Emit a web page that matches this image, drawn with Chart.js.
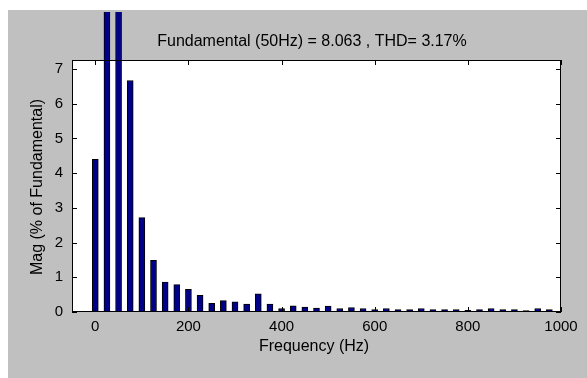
<!DOCTYPE html>
<html>
<head>
<meta charset="utf-8">
<script src="https://cdn.jsdelivr.net/npm/chart.js@4/dist/chart.umd.min.js"></script>
<style>
  html, body { margin: 0; padding: 0; background: #fff; }
  #wrap { position: absolute; left: 8px; top: 10px; width: 579px; height: 368px; background: #c0c0c0; }
</style>
</head>
<body>
<div id="wrap"><canvas id="fft"></canvas></div>
<script>
// harmonic spectrum, 25 Hz steps
const freqs = [0, 25, 50, 75, 100, 125, 150, 175, 200, 225, 250, 275, 300, 325, 350, 375, 400, 425, 450, 475,
  500, 525, 550, 575, 600, 625, 650, 675, 700, 725, 750, 775, 800, 825, 850, 875, 900, 925, 950, 975];
const mags = [4.4, 9.2, 100, 6.67, 2.72, 1.49, 0.86, 0.79, 0.65, 0.48, 0.25, 0.33, 0.29, 0.23, 0.52, 0.23, 0.10, 0.18, 0.14, 0.11,
  0.17, 0.10, 0.13, 0.10, 0.07, 0.10, 0.07, 0.07, 0.10, 0.07, 0.07, 0.07, 0.05, 0.07, 0.10, 0.07, 0.07, 0.04, 0.10, 0.07];
const xTicks = [0, 200, 400, 600, 800, 1000];
const yTicks = [0, 1, 2, 3, 4, 5, 6, 7];
const titleText = "Fundamental (50Hz) = 8.063 , THD= 3.17%";
const xLabel = "Frequency (Hz)";
const yLabel = "Mag (% of Fundamental)";

const family = "'Liberation Sans', Arial, sans-serif";
const labelFont = "16px " + family;

const matlabAxes = {
  id: "matlabAxes",
  beforeDraw(chart) {
    const { ctx, chartArea: a } = chart;
    ctx.save();
    ctx.fillStyle = "#fff";
    ctx.fillRect(a.left, a.top, a.right - a.left, a.bottom - a.top);
    ctx.restore();
  },
  afterDraw(chart) {
    const { ctx, chartArea: a, scales } = chart;
    ctx.save();
    ctx.strokeStyle = "#000";
    ctx.lineWidth = 1;
    ctx.strokeRect(a.left + 0.5, a.top + 0.5, a.right - a.left - 1, a.bottom - a.top - 1);
    ctx.beginPath();
    xTicks.forEach(v => {
      const x = Math.round(scales.x.getPixelForValue(v)) + 0.5;
      ctx.moveTo(x, a.bottom); ctx.lineTo(x, a.bottom - 5);
      ctx.moveTo(x, a.top); ctx.lineTo(x, a.top + 5);
    });
    yTicks.forEach(v => {
      const y = Math.round(scales.y.getPixelForValue(v)) + 0.5;
      ctx.moveTo(a.left, y); ctx.lineTo(a.left + 5, y);
      ctx.moveTo(a.right, y); ctx.lineTo(a.right - 5, y);
    });
    ctx.stroke();

    ctx.fillStyle = "#000";
    ctx.font = labelFont;
    ctx.textAlign = "center";
    ctx.textBaseline = "middle";
    ctx.fillText(titleText, 304, 32);
    ctx.fillText(xLabel, 306, 337);
    ctx.translate(30, 177);
    ctx.rotate(-Math.PI / 2);
    ctx.fillText(yLabel, 0, 0);
    ctx.restore();
  }
};

new Chart(document.getElementById("fft"), {
  type: "bar",
  data: {
    datasets: [{
      data: freqs.map((f, i) => ({ x: f, y: mags[i] })),
      backgroundColor: "#000088",
      borderColor: "#000",
      borderWidth: 1,
      barThickness: 6,
      clip: { left: 10, top: 48, right: 10, bottom: 0 }
    }]
  },
  options: {
    responsive: true,
    maintainAspectRatio: false,
    animation: false,
    layout: { padding: { top: 50, right: 26, left: 0, bottom: 0 } },
    plugins: { legend: { display: false }, tooltip: { enabled: false } },
    scales: {
      x: {
        type: "linear",
        min: -50,
        max: 1000,
        offset: false,
        grid: { display: false, drawTicks: false },
        border: { display: false },
        afterBuildTicks: s => { s.ticks = xTicks.map(v => ({ value: v })); },
        afterFit: s => { s.height = 66; },
        ticks: { color: "#000", font: { family, size: 15 }, padding: 6, maxRotation: 0, autoSkip: false,
          callback: v => String(v) }
      },
      y: {
        min: 0,
        max: 7.26,
        grid: { display: false, drawTicks: false },
        border: { display: false },
        afterBuildTicks: s => { s.ticks = yTicks.map(v => ({ value: v })); },
        afterFit: s => { s.width = 64; },
        ticks: { color: "#000", font: { family, size: 15 }, padding: 9, callback: v => String(v) }
      }
    }
  },
  plugins: [matlabAxes]
});
</script>
</body>
</html>
